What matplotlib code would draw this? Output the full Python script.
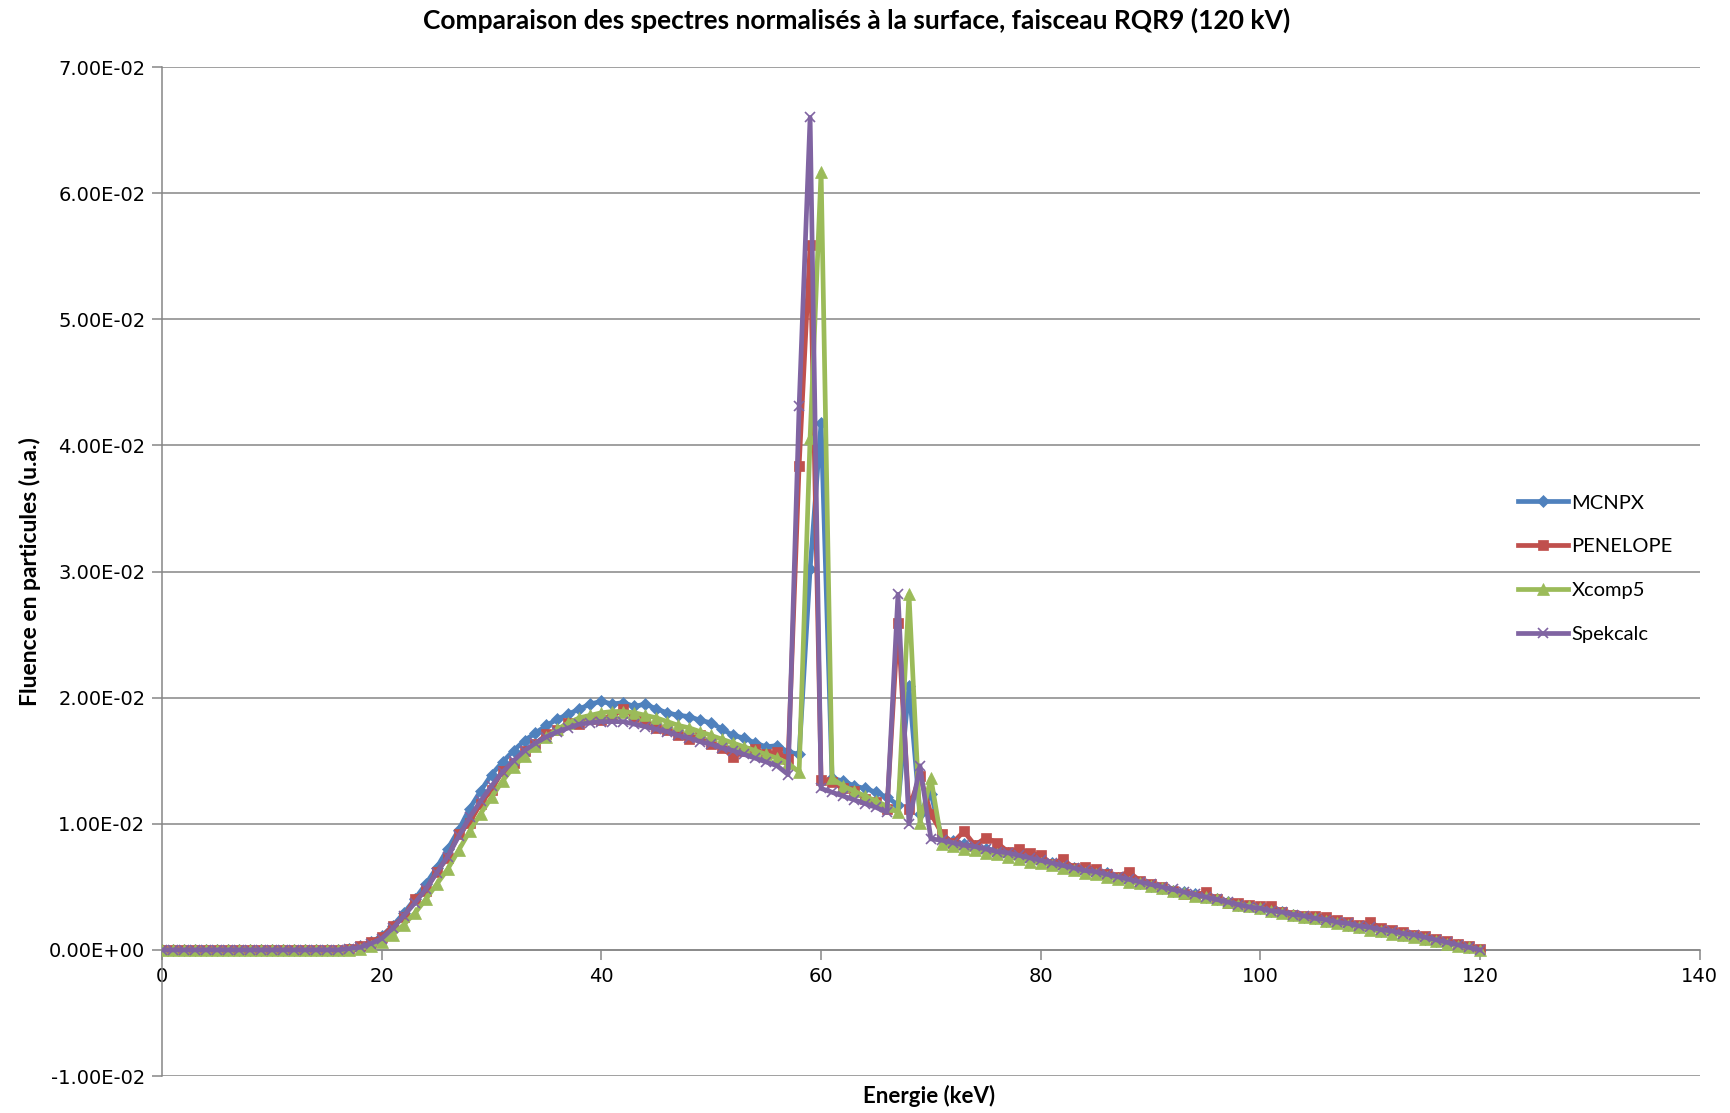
import numpy as np
import matplotlib
matplotlib.use("Agg")
import matplotlib.pyplot as plt

# energy grid (keV), one point per keV
energy = list(range(0, 121))

zeros17 = [0.0] * 17

mcnpx = zeros17 + [
    0.0001, 0.0003, 0.0006, 0.0011, 0.0019, 0.0029, 0.0040, 0.0052, 0.0065, 0.0080,
    0.0095, 0.0112, 0.0126, 0.0139, 0.0149, 0.0158, 0.0166, 0.0172, 0.0178, 0.0183,
    0.0187, 0.0191, 0.0195, 0.0197, 0.0195, 0.0196, 0.0193, 0.0195, 0.0191, 0.0188,
    0.0186, 0.0185, 0.0182, 0.0180, 0.0175, 0.0170, 0.0168, 0.0164, 0.0161, 0.0162,
    0.0157, 0.0155, 0.0302, 0.0418, 0.0136, 0.0134, 0.0130, 0.0128, 0.0125, 0.0121,
    0.0115, 0.0209, 0.0108, 0.0124, 0.0088, 0.0086, 0.0084, 0.0082, 0.0080, 0.0079,
    0.0077, 0.0075, 0.0073, 0.0071, 0.0069, 0.0067, 0.0065, 0.0064, 0.0062, 0.0061,
    0.0057, 0.0055, 0.0053, 0.0051, 0.0049, 0.0047, 0.0046, 0.0044, 0.0042, 0.0040,
    0.0038, 0.0036, 0.0035, 0.0033, 0.0031, 0.0030, 0.0028, 0.0026, 0.0025, 0.0023,
    0.0022, 0.0020, 0.0018, 0.0017, 0.0015, 0.0014, 0.0012, 0.0011, 0.0009, 0.0007,
    0.0005, 0.0004, 0.0002, 0.0000,
]

penelope = zeros17 + [
    0.0001, 0.0003, 0.0006, 0.0010, 0.0019, 0.0026, 0.0040, 0.0047, 0.0062, 0.0073,
    0.0092, 0.0101, 0.0116, 0.0127, 0.0142, 0.0148, 0.0158, 0.0163, 0.0171, 0.0174,
    0.0180, 0.0179, 0.0183, 0.0182, 0.0186, 0.0191, 0.0185, 0.0182, 0.0176, 0.0174,
    0.0170, 0.0167, 0.0170, 0.0163, 0.0160, 0.0153, 0.0158, 0.0159, 0.0155, 0.0157,
    0.0151, 0.0384, 0.0559, 0.0135, 0.0133, 0.0128, 0.0126, 0.0120, 0.0117, 0.0112,
    0.0259, 0.0112, 0.0138, 0.0108, 0.0092, 0.0085, 0.0094, 0.0083, 0.0089, 0.0085,
    0.0078, 0.0080, 0.0077, 0.0075, 0.0068, 0.0072, 0.0065, 0.0066, 0.0064, 0.0060,
    0.0058, 0.0062, 0.0055, 0.0052, 0.0050, 0.0047, 0.0044, 0.0043, 0.0046, 0.0040,
    0.0037, 0.0037, 0.0036, 0.0035, 0.0035, 0.0030, 0.0028, 0.0027, 0.0027, 0.0026,
    0.0024, 0.0022, 0.0020, 0.0022, 0.0017, 0.0016, 0.0014, 0.0012, 0.0011, 0.0009,
    0.0007, 0.0005, 0.0003, 0.0001,
]

xcomp5 = zeros17 + [
    0.0000, 0.0001, 0.0003, 0.0006, 0.0012, 0.0020, 0.0029, 0.0040, 0.0052, 0.0064,
    0.0079, 0.0094, 0.0108, 0.0121, 0.0134, 0.0145, 0.0154, 0.0162, 0.0169, 0.0175,
    0.0180, 0.0184, 0.0186, 0.0188, 0.0189, 0.0189, 0.0188, 0.0186, 0.0184, 0.0181,
    0.0178, 0.0176, 0.0173, 0.0170, 0.0167, 0.0164, 0.0161, 0.0158, 0.0155, 0.0152,
    0.0148, 0.0141, 0.0406, 0.0617, 0.0136, 0.0130, 0.0126, 0.0122, 0.0118, 0.0114,
    0.0109, 0.0282, 0.0101, 0.0136, 0.0084, 0.0082, 0.0080, 0.0079, 0.0077, 0.0076,
    0.0074, 0.0072, 0.0070, 0.0069, 0.0067, 0.0065, 0.0063, 0.0061, 0.0060, 0.0058,
    0.0056, 0.0054, 0.0053, 0.0051, 0.0049, 0.0047, 0.0045, 0.0043, 0.0042, 0.0040,
    0.0038, 0.0036, 0.0035, 0.0033, 0.0031, 0.0029, 0.0028, 0.0026, 0.0025, 0.0023,
    0.0021, 0.0020, 0.0018, 0.0016, 0.0015, 0.0013, 0.0012, 0.0010, 0.0009, 0.0007,
    0.0005, 0.0003, 0.0002, 0.0000,
]

spekcalc = zeros17 + [
    0.0001, 0.0002, 0.0005, 0.0009, 0.0017, 0.0027, 0.0037, 0.0048, 0.0061, 0.0074,
    0.0090, 0.0105, 0.0118, 0.0130, 0.0141, 0.0150, 0.0158, 0.0164, 0.0169, 0.0173,
    0.0176, 0.0179, 0.0180, 0.0181, 0.0181, 0.0181, 0.0179, 0.0177, 0.0175, 0.0173,
    0.0170, 0.0168, 0.0165, 0.0163, 0.0160, 0.0158, 0.0155, 0.0152, 0.0149, 0.0146,
    0.0139, 0.0431, 0.0660, 0.0128, 0.0125, 0.0122, 0.0119, 0.0116, 0.0113, 0.0109,
    0.0282, 0.0100, 0.0146, 0.0088, 0.0087, 0.0085, 0.0083, 0.0082, 0.0080, 0.0078,
    0.0077, 0.0075, 0.0073, 0.0071, 0.0069, 0.0067, 0.0065, 0.0063, 0.0062, 0.0060,
    0.0058, 0.0056, 0.0054, 0.0052, 0.0050, 0.0048, 0.0046, 0.0044, 0.0042, 0.0040,
    0.0038, 0.0036, 0.0034, 0.0033, 0.0031, 0.0030, 0.0028, 0.0027, 0.0025, 0.0024,
    0.0022, 0.0021, 0.0019, 0.0018, 0.0016, 0.0015, 0.0013, 0.0012, 0.0010, 0.0008,
    0.0006, 0.0004, 0.0002, 0.0000,
]

series_names = ["MCNPX", "PENELOPE", "Xcomp5", "Spekcalc"]
colors = ["#4F81BD", "#C0504D", "#9BBB59", "#8064A2"]
markers = ["D", "s", "^", "x"]
msizes = [6.5, 7.5, 8.5, 7.5]

y_ticks = [-0.01, 0.0, 0.01, 0.02, 0.03, 0.04, 0.05, 0.06, 0.07]
y_labels = ["-1.00E-02", "0.00E+00", "1.00E-02", "2.00E-02", "3.00E-02",
            "4.00E-02", "5.00E-02", "6.00E-02", "7.00E-02"]
x_ticks = [0, 20, 40, 60, 80, 100, 120, 140]

fig = plt.figure(figsize=(17.31, 11.13), dpi=100)
ax = fig.add_axes([0.0936, 0.0332, 0.9884 - 0.0936 - 0.0064, 0.9398 - 0.0332])

grid_c = "#868686"
for yv in y_ticks:
    ax.axhline(yv, color=grid_c, lw=1.1, zorder=1)

for vals, name, c, m, ms in zip([mcnpx, penelope, xcomp5, spekcalc],
                                series_names, colors, markers, msizes):
    ax.plot(energy, vals, color=c, lw=3.4, marker=m, markersize=ms,
            markeredgewidth=1.2 if m == "x" else 0.5, markeredgecolor=c,
            markerfacecolor=c, label=name, zorder=3)

ax.set_xlim(0, 140)
ax.set_ylim(-0.01, 0.07)
ax.set_yticks(y_ticks)
ax.set_yticklabels(y_labels)
ax.set_xticks(x_ticks)

for s in ["top", "right"]:
    ax.spines[s].set_visible(False)
ax.spines["left"].set_color(grid_c)
ax.spines["left"].set_linewidth(1.1)
ax.spines["bottom"].set_position(("data", 0))
ax.spines["bottom"].set_color(grid_c)
ax.spines["bottom"].set_linewidth(1.1)

ax.tick_params(axis="both", direction="out", length=7, width=1.1, color=grid_c,
               labelsize=14, labelcolor="#000000")
ax.tick_params(axis="x", pad=5)
ax.tick_params(axis="y", pad=5)

fig.text(0.495, 0.982, "Comparaison des spectres normalisés à la surface, faisceau RQR9 (120 kV)",
         fontsize=19, fontweight="bold", family="Lato", ha="center", va="center")
ax.set_ylabel("Fluence en particules (u.a.)", fontsize=16.5, fontweight="bold",
              family="Lato")
ax.yaxis.set_label_coords(-0.079, 0.5)
fig.text(0.537, 0.015, "Energie (keV)", fontsize=16, fontweight="bold",
         family="Lato", ha="center", va="center")

leg = ax.legend(loc="center left", bbox_to_anchor=(0.870, 0.503), frameon=False,
                handlelength=2.5, labelspacing=1.32, handletextpad=0.15,
                prop={"family": "Lato", "size": 14.5})

fig.savefig("out.png", dpi=100)
